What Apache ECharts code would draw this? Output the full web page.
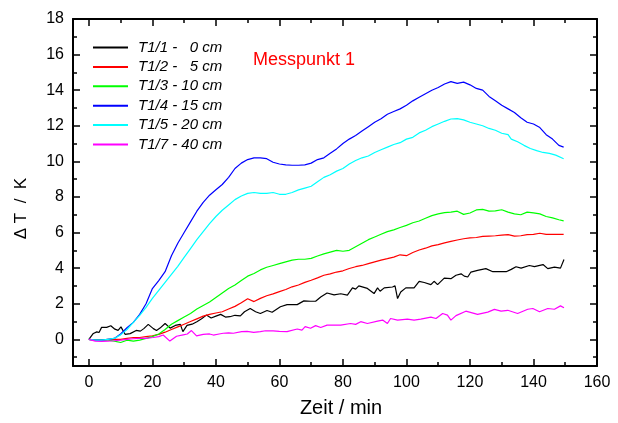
<!DOCTYPE html>
<html><head><meta charset="utf-8">
<script src="https://cdn.jsdelivr.net/npm/echarts@6/dist/echarts.min.js"></script>
<style>html,body{margin:0;padding:0;background:#fff}#c{width:618px;height:423px}</style>
</head><body><div id="c"></div>
<script>
const legendNames = ['T1/1 -   0 cm','T1/2 -   5 cm','T1/3 - 10 cm','T1/4 - 15 cm','T1/5 - 20 cm','T1/7 - 40 cm'];
const seriesColors = ['#000000','#ff0000','#00ff00','#0000ff','#00ffff','#ff00ff'];
const xMajorTicks = [0,20,40,60,80,100,120,140,160];
const xMinorTicks = [10,30,50,70,90,110,130,150];
const yMajorTicks = [0,2,4,6,8,10,12,14,16,18];
const yMinorTicks = [-1,1,3,5,7,9,11,13,15,17];

const t1_1 = [[0,0],[1.4,0.33],[2.5,0.42],[3.2,0.38],[4,0.67],[5.6,0.67],[6.9,0.76],[8.2,0.57],[9.2,0.5],[10.1,0.7],[11.4,0.28],[13,0.32],[14.9,0.5],[16.2,0.46],[17.3,0.6],[18.7,0.84],[20.3,0.6],[21.3,0.5],[22.4,0.63],[24,0.89],[25.6,0.63],[27.2,0.78],[28.8,0.84],[29.6,0.43],[30.9,0.78],[32.5,0.85],[34,0.99],[35.5,1.15],[37,1.36],[38.5,1.2],[40,1.3],[41.5,1.4],[43,1.25],[44.4,1.27],[46,1.35],[47.7,1.32],[49,1.55],[50.8,1.73],[52.5,1.55],[54,1.45],[56.1,1.62],[57.7,1.52],[60.3,1.83],[62.4,1.95],[65.6,1.95],[67.7,2.16],[69.8,2.14],[71.4,2.14],[73,2.38],[75,2.6],[77.2,2.5],[79.3,2.56],[81.4,2.48],[83,2.89],[84,2.82],[85,3.0],[87.7,2.86],[89.8,2.57],[90.9,2.89],[91.7,2.7],[93,2.89],[95.6,2.94],[96.4,3.0],[97.2,2.29],[98.2,2.66],[99.8,2.89],[102.4,2.89],[104,3.26],[105.6,3.19],[107.7,3.07],[108.7,3.26],[109.8,3.07],[111.9,3.44],[114,3.41],[115.6,3.6],[117.2,3.68],[118.2,3.55],[119.3,3.5],[120.3,3.78],[122.4,3.87],[125,3.97],[127.2,3.8],[131.4,3.8],[133,3.93],[134.5,4.08],[136.1,4.0],[138.7,4.15],[140.3,4.08],[143,4.2],[144.5,3.97],[146.6,4.06],[148.5,4.0],[149.6,4.49]];
const t1_2 = [[0,0],[2,-0.05],[4,-0.05],[6,0],[8,0],[10,0],[12,0.05],[14,0.1],[16,0.1],[18,0.15],[20,0.2],[22,0.28],[24,0.4],[26,0.55],[28,0.7],[30,0.85],[32,1.0],[34,1.15],[36,1.3],[38,1.4],[40,1.48],[42,1.55],[44,1.7],[46,1.85],[48,2.05],[50,2.28],[52,2.12],[54,2.3],[56,2.45],[58,2.55],[60,2.68],[62,2.8],[64,2.95],[66,3.05],[68,3.2],[70,3.32],[72,3.45],[74,3.6],[76,3.68],[78,3.78],[80,3.85],[82,3.98],[84,4.08],[86,4.15],[88,4.25],[90,4.35],[92,4.45],[94,4.53],[96,4.62],[98,4.75],[100,4.7],[102,4.88],[104,5.02],[106,5.12],[108,5.25],[110,5.32],[112,5.42],[114,5.5],[116,5.58],[118,5.65],[120,5.7],[122,5.72],[124,5.78],[126,5.8],[128,5.82],[130,5.85],[132,5.88],[134,5.8],[136,5.82],[138,5.88],[140,5.9],[142,5.96],[144,5.9],[146,5.9],[148,5.9],[149.5,5.9]];
const t1_3 = [[0,0],[2,-0.05],[4,-0.05],[6,-0.05],[8,-0.1],[10,-0.18],[12,-0.05],[14,-0.1],[16,-0.05],[18,0.05],[20,0.15],[22,0.3],[24,0.55],[26,0.85],[28,1.05],[30,1.25],[32,1.45],[34,1.7],[36,1.9],[38,2.1],[40,2.35],[42,2.6],[44,2.85],[46,3.05],[48,3.3],[50,3.55],[52,3.7],[54,3.9],[56,4.05],[58,4.15],[60,4.25],[62,4.35],[64,4.45],[66,4.5],[68,4.5],[70,4.55],[72,4.68],[74,4.8],[76,4.9],[78,5.0],[80,4.95],[82,5.0],[84,5.2],[86,5.4],[88,5.6],[90,5.75],[92,5.9],[94,6.05],[96,6.15],[98,6.28],[100,6.4],[102,6.55],[104,6.65],[106,6.8],[108,6.95],[110,7.05],[112,7.12],[114,7.15],[116,7.2],[118,7.02],[120,7.1],[122,7.27],[124,7.3],[126,7.2],[128,7.22],[130,7.28],[132,7.15],[134,7.05],[136,7.0],[138,7.15],[140,7.1],[142,7.05],[144,6.9],[146,6.82],[148,6.72],[149.5,6.66]];
const t1_4 = [[0,0],[2,-0.05],[4,-0.05],[6,0],[8,0.05],[10,0.3],[12,0.65],[14,0.95],[16,1.4],[18,2.0],[20,2.85],[22,3.3],[24,3.8],[26,4.7],[28,5.4],[30,6.0],[32,6.6],[34,7.2],[36,7.7],[38,8.1],[40,8.4],[42,8.7],[44,9.1],[46,9.6],[48,9.9],[50,10.1],[52,10.2],[54,10.2],[56,10.15],[58,9.95],[60,9.85],[62,9.8],[64,9.78],[66,9.78],[68,9.8],[70,9.9],[72,10.1],[74,10.2],[76,10.45],[78,10.7],[80,11.0],[82,11.25],[84,11.45],[86,11.7],[88,11.95],[90,12.2],[92,12.4],[94,12.65],[96,12.8],[98,12.95],[100,13.15],[102,13.4],[104,13.6],[106,13.8],[108,14.0],[110,14.15],[112,14.35],[114,14.48],[116,14.38],[118,14.45],[120,14.3],[122,14.1],[124,14.0],[126,13.65],[128,13.4],[130,13.15],[132,12.95],[134,12.75],[136,12.45],[138,12.2],[140,12.1],[142,11.9],[144,11.5],[146,11.25],[148,10.9],[149.5,10.8]];
const t1_5 = [[0,0],[2,-0.05],[4,-0.05],[6,0],[8,0.05],[10,0.25],[12,0.55],[14,0.95],[16,1.35],[18,1.8],[20,2.3],[22,2.75],[24,3.2],[26,3.65],[28,4.1],[30,4.6],[32,5.1],[34,5.6],[36,6.05],[38,6.5],[40,6.9],[42,7.25],[44,7.55],[46,7.85],[48,8.05],[50,8.2],[52,8.25],[54,8.2],[56,8.2],[58,8.25],[60,8.15],[62,8.15],[64,8.25],[66,8.4],[68,8.5],[70,8.6],[72,8.85],[74,9.1],[76,9.25],[78,9.45],[80,9.6],[82,9.85],[84,10.05],[86,10.2],[88,10.3],[90,10.5],[92,10.65],[94,10.8],[96,10.95],[98,11.05],[100,11.25],[102,11.35],[104,11.6],[106,11.75],[108,11.95],[110,12.1],[112,12.25],[114,12.38],[116,12.4],[118,12.33],[120,12.2],[122,12.1],[124,12.0],[126,11.85],[128,11.75],[130,11.58],[132,11.5],[133,11.25],[135,11.1],[137,10.9],[139,10.72],[141,10.6],[143,10.5],[145,10.45],[147,10.35],[149.5,10.15]];
const t1_7 = [[0,0],[2,-0.1],[4,-0.12],[6,-0.1],[8,-0.08],[10,-0.05],[12,0],[14,0.03],[16,0.05],[18,0.05],[20.2,0.1],[22,0.15],[23.4,0.24],[25.5,-0.1],[27.6,0.17],[29.7,0.25],[31,0.3],[32.3,0.49],[33.9,0.19],[36,0.28],[38,0.3],[39.2,0.24],[41,0.3],[42.3,0.34],[44,0.36],[45.5,0.34],[48.1,0.43],[49.8,0.45],[51.9,0.39],[54,0.43],[55.6,0.48],[58,0.47],[60,0.45],[62.4,0.43],[65.6,0.58],[67.1,0.52],[68.1,0.71],[69.8,0.62],[71.4,0.77],[73,0.66],[75,0.8],[79.3,0.8],[82.4,0.89],[84,0.84],[85.6,0.99],[87.7,0.89],[90.9,1.02],[92.5,1.08],[94,0.89],[95,1.17],[97.2,1.08],[100.3,1.13],[102.4,1.08],[104.5,1.13],[107.7,1.25],[109.3,1.17],[111.4,1.45],[112.9,1.36],[114,1.08],[115.6,1.33],[118.7,1.58],[122.4,1.4],[125.6,1.53],[127.7,1.68],[129.8,1.58],[131.9,1.63],[135,1.45],[138.2,1.69],[139.8,1.73],[141.9,1.55],[144.5,1.73],[146.6,1.69],[148.5,1.88],[149.6,1.77]];
const seriesData = [t1_1, t1_2, t1_3, t1_4, t1_5, t1_7];

const FONT = 'Liberation Sans, Arial, sans-serif';
const X_MIN = -5, X_MAX = 160, Y_MIN = -1.5, Y_MAX = 18;
const lineStyleAxis = {color:'#000', width:2};

function xAx(pos, ticks, len, labels, show) {
  return {
    type:'value', position:pos, min:X_MIN, max:X_MAX,
    axisLine:{show:show, onZero:false, lineStyle:lineStyleAxis},
    axisTick:{show:true, inside:true, length:len, customValues:ticks, lineStyle:{color:'#000', width:1.5}},
    axisLabel:{show:labels, customValues:ticks, color:'#000', fontSize:16, fontFamily:FONT, margin:9},
    splitLine:{show:false}
  };
}
function yAx(pos, ticks, len, labels, show) {
  return {
    type:'value', position:pos, min:Y_MIN, max:Y_MAX,
    axisLine:{show:show, onZero:false, lineStyle:lineStyleAxis},
    axisTick:{show:true, inside:true, length:len, customValues:ticks, lineStyle:{color:'#000', width:1.5}},
    axisLabel:{show:labels, customValues:ticks, color:'#000', fontSize:16, fontFamily:FONT, margin:9},
    splitLine:{show:false}
  };
}

const xAxes = [
  Object.assign(xAx('bottom', xMajorTicks, 7, true, true), {name:'Zeit / min', nameLocation:'middle', nameGap:32, nameTextStyle:{fontSize:20, fontFamily:FONT, color:'#000', padding:[0,0,0,12]}}),
  xAx('bottom', xMinorTicks, 4, false, false),
  xAx('top', xMajorTicks, 7, false, true),
  xAx('top', xMinorTicks, 4, false, false)
];
const yAxes = [
  Object.assign(yAx('left', yMajorTicks, 7, true, true), {name:'\u0394 T  /  K', nameLocation:'middle', nameGap:43, nameRotate:90, nameTextStyle:{fontSize:17, fontFamily:FONT, color:'#000', padding:[0,32,0,0]}}),
  yAx('left', yMinorTicks, 4, false, false),
  yAx('right', yMajorTicks, 7, false, true),
  yAx('right', yMinorTicks, 4, false, false)
];

const chart = echarts.init(document.getElementById('c'), null, {renderer:'canvas'});
chart.setOption({
  animation:false,
  backgroundColor:'#fff',
  title:{text:'Messpunkt 1', left:253, top:51, padding:0, textStyle:{color:'#ff0000', fontSize:18, fontWeight:'normal', fontFamily:FONT}},
  legend:{
    orient:'vertical', left:92, top:40, itemWidth:35, itemHeight:14, itemGap:4.4, padding:0,
    data:legendNames,
    itemStyle:{opacity:0},
    textStyle:{fontSize:15, fontStyle:'italic', fontFamily:FONT, color:'#000', padding:[0,0,0,5]}
  },
  grid:{left:73, right:21, top:19, bottom:55, containLabel:false},
  xAxis:xAxes,
  yAxis:yAxes,
  series: seriesData.map((d,i)=>({
    name:legendNames[i], type:'line', data:d, xAxisIndex:0, yAxisIndex:0,
    symbol:'none', showSymbol:false, smooth:false,
    lineStyle:{color:seriesColors[i], width:1.2}, itemStyle:{color:seriesColors[i]}
  }))
});
</script></body></html>
